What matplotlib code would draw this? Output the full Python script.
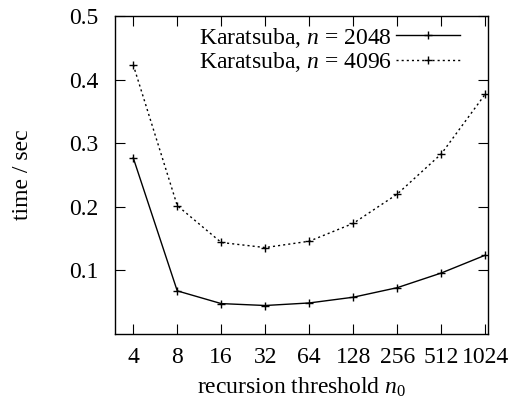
import numpy as np
import matplotlib.pyplot as plt

plt.rcParams["font.family"] = "Liberation Serif"
plt.rcParams["mathtext.fontset"] = "custom"
plt.rcParams["mathtext.rm"] = "Liberation Serif"
plt.rcParams["mathtext.it"] = "Liberation Serif:italic"
plt.rcParams["font.size"] = 17

# recursion threshold n0 and timings
thresholds = [4, 8, 16, 32, 64, 128, 256, 512, 1024]
time_2048 = [0.277, 0.068, 0.048, 0.045, 0.049, 0.058, 0.073, 0.096, 0.124]
time_4096 = [0.423, 0.202, 0.144, 0.136, 0.146, 0.174, 0.220, 0.283, 0.377]
yticks = [0.1, 0.2, 0.3, 0.4, 0.5]

fig = plt.figure(figsize=(5.11, 4.07), dpi=100)
ax = fig.add_axes([0.225, 0.179, 0.730, 0.782])

ax.plot(thresholds, time_2048, color="black", lw=1, marker="+", ms=6, mew=1,
        label=r"Karatsuba, $n$ = 2048")
ax.plot(thresholds, time_4096, color="black", lw=1, ls=(0, (1.5, 2.2)), marker="+",
        ms=6, mew=1, label=r"Karatsuba, $n$ = 4096")

ax.set_xscale("log", base=2)
ax.set_xlim(3.0, 1070)
ax.set_xticks(thresholds)
ax.set_xticklabels([str(t) for t in thresholds])
ax.minorticks_off()
ax.set_ylim(0, 0.5)
ax.set_yticks(yticks)
ax.set_yticklabels([f"{v:.1f}" for v in yticks])

ax.tick_params(direction="in", length=7, width=0.8, top=True, right=True, pad=9)
ax.tick_params(axis="y", pad=12)
for s in ax.spines.values():
    s.set_linewidth(1)

ax.set_xlabel(r"recursion threshold $n_0$", labelpad=6)
ax.set_ylabel("time / sec", labelpad=26)

ax.legend(loc="upper right", bbox_to_anchor=(0.925, 0.969), frameon=False,
          markerfirst=False, handlelength=2.7, handletextpad=0.2,
          borderpad=0.0, labelspacing=0.03, borderaxespad=0)

fig.savefig("out.png", dpi=100)
